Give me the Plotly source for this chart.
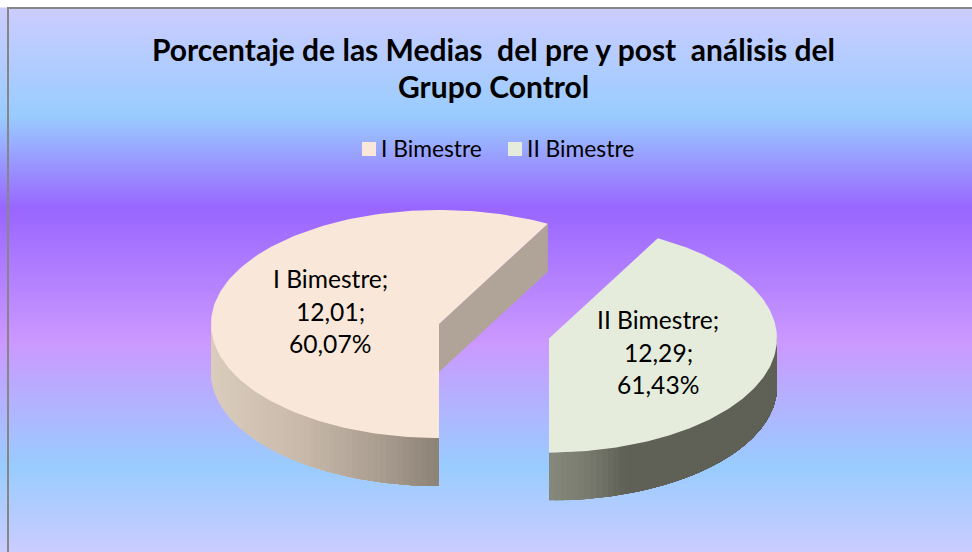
import numpy as np
import plotly.graph_objects as go

# ---- data ----
categories = ["I Bimestre", "II Bimestre"]
values = ["12,01", "12,29"]
percents = ["60,07%", "61,43%"]
slice_span_deg = [208.5, 151.5]      # drawn angular span of each wedge
title_lines = ["Porcentaje de las Medias\u00a0 del pre y post\u00a0 análisis del", "Grupo Control"]

# ---- style / layout constants ----
W, H = 972, 552
FONT = "Lato, Carlito, sans-serif"
top_colors = ["#F9E8D9", "#E6ECDC"]
centers = [(439, 324), (549, 338.5)]
RX, RY, DEPTH = 228, 114, 48
START = 270  # wedges run clockwise from the bottom
label_pos = [(330, 278), (658, 319)]
legend_sq_x = [369, 515]
legend_tx_x = [379, 525]

def arc(cx, cy, t0, t1, n=160, dy=0):
    t = np.radians(np.linspace(t0, t1, n))
    return cx + RX*np.cos(t), cy - RY*np.sin(t) + dy

def mix(stops, x):
    xs = [s[0] for s in stops]
    rgb = [np.interp(x, xs, [s[1][i] for s in stops]) for i in range(3)]
    return "rgb(%d,%d,%d)" % tuple(rgb)

left_wall = [(211, (219, 205, 190)), (300, (201, 186, 171)), (380, (170, 158, 145)), (439, (140, 130, 118))]
right_wall = [(549, (135, 137, 125)), (590, (120, 122, 110)), (625, (96, 97, 87)), (777, (95, 96, 86))]

fig = go.Figure()

# background gradient
grad_y = list(range(8, H + 1))
grad_stops = [(8, "#CCCCFF"), (115, "#99CCFF"), (208, "#9966FF"), (342, "#CC99FF"), (465, "#99CCFF"), (552, "#CCCCFF")]
colorscale = [[(y - 8) / (552 - 8), c] for y, c in grad_stops]
fig.add_trace(go.Heatmap(x=[8, W], y=grad_y, z=[[y, y] for y in grad_y], colorscale=colorscale,
                         zmin=8, zmax=552, showscale=False, hoverinfo="skip", zsmooth="best"))

def poly(xs, ys, color, width=0.0):
    fig.add_trace(go.Scatter(x=list(xs), y=list(ys), mode="lines", fill="toself", fillcolor=color,
                             line=dict(color=color, width=width), hoverinfo="skip", showlegend=False))

def wall(cx, cy, t0, t1, stops, n=60):
    # painted in order, each band reaching to the wall's end, so no seams show
    ts = np.linspace(t0, t1, n + 1)
    for a, b in zip(ts[:-1], ts[1:]):
        xa, ya = arc(cx, cy, a, t1, 60)
        xm = cx + RX*np.cos(np.radians((a + b)/2))
        poly(np.r_[xa, xa[::-1]], np.r_[ya, ya[::-1] + DEPTH], mix(stops, xm))

# left wedge
cx, cy = centers[0]
end = START - slice_span_deg[0]
ox, oy = cx + RX*np.cos(np.radians(end)), cy - RY*np.sin(np.radians(end))
poly([cx, ox, ox, cx], [cy, oy, oy + DEPTH, cy + DEPTH], "#B0A498")
wall(cx, cy, 180, 270, left_wall)
ax, ay = arc(cx, cy, START, end)
poly(np.r_[cx, ax], np.r_[cy, ay], top_colors[0])

# right wedge
cx, cy = centers[1]
wall(cx, cy, 270, 360, right_wall)
ax, ay = arc(cx, cy, end, START - 360)
poly(np.r_[cx, ax], np.r_[cy, ay], top_colors[1])

# legend squares
fig.add_trace(go.Scatter(x=legend_sq_x, y=[149, 149], mode="markers",
                         marker=dict(symbol="square", size=14, color=top_colors, line=dict(width=0)),
                         hoverinfo="skip", showlegend=False))

def text(x, y, s, size, anchor="center", bold=False):
    fig.add_annotation(x=x, y=y, text=f"<b>{s}</b>" if bold else s, showarrow=False, xanchor=anchor, yanchor="middle",
                       font=dict(family=FONT, size=size, color="#000000"))

text(493, 48.5, title_lines[0], 30, bold=True)
text(493, 86, title_lines[1], 30, bold=True)
for x, c in zip(legend_tx_x, categories):
    text(x, 148, c, 22.8, anchor="left")
for (x, y), c, v, p in zip(label_pos, categories, values, percents):
    text(x, y, c + ";", 24.6)
    text(x, y + 33, v + ";", 24.6)
    text(x, y + 65, p, 24.6)

fig.add_shape(type="rect", x0=8, y0=8, x1=W + 20, y1=H + 20, line=dict(color="#868686", width=2), layer="above")

fig.update_layout(width=W, height=H, margin=dict(l=0, r=0, t=0, b=0), paper_bgcolor="white", plot_bgcolor="white",
                  showlegend=False,
                  xaxis=dict(range=[0, W], visible=False, fixedrange=True),
                  yaxis=dict(range=[H, 0], visible=False, fixedrange=True))
fig.write_html("out.html", config=dict(displayModeBar=False),
               post_script="document.body.style.margin='0';document.documentElement.style.overflow='hidden';")
